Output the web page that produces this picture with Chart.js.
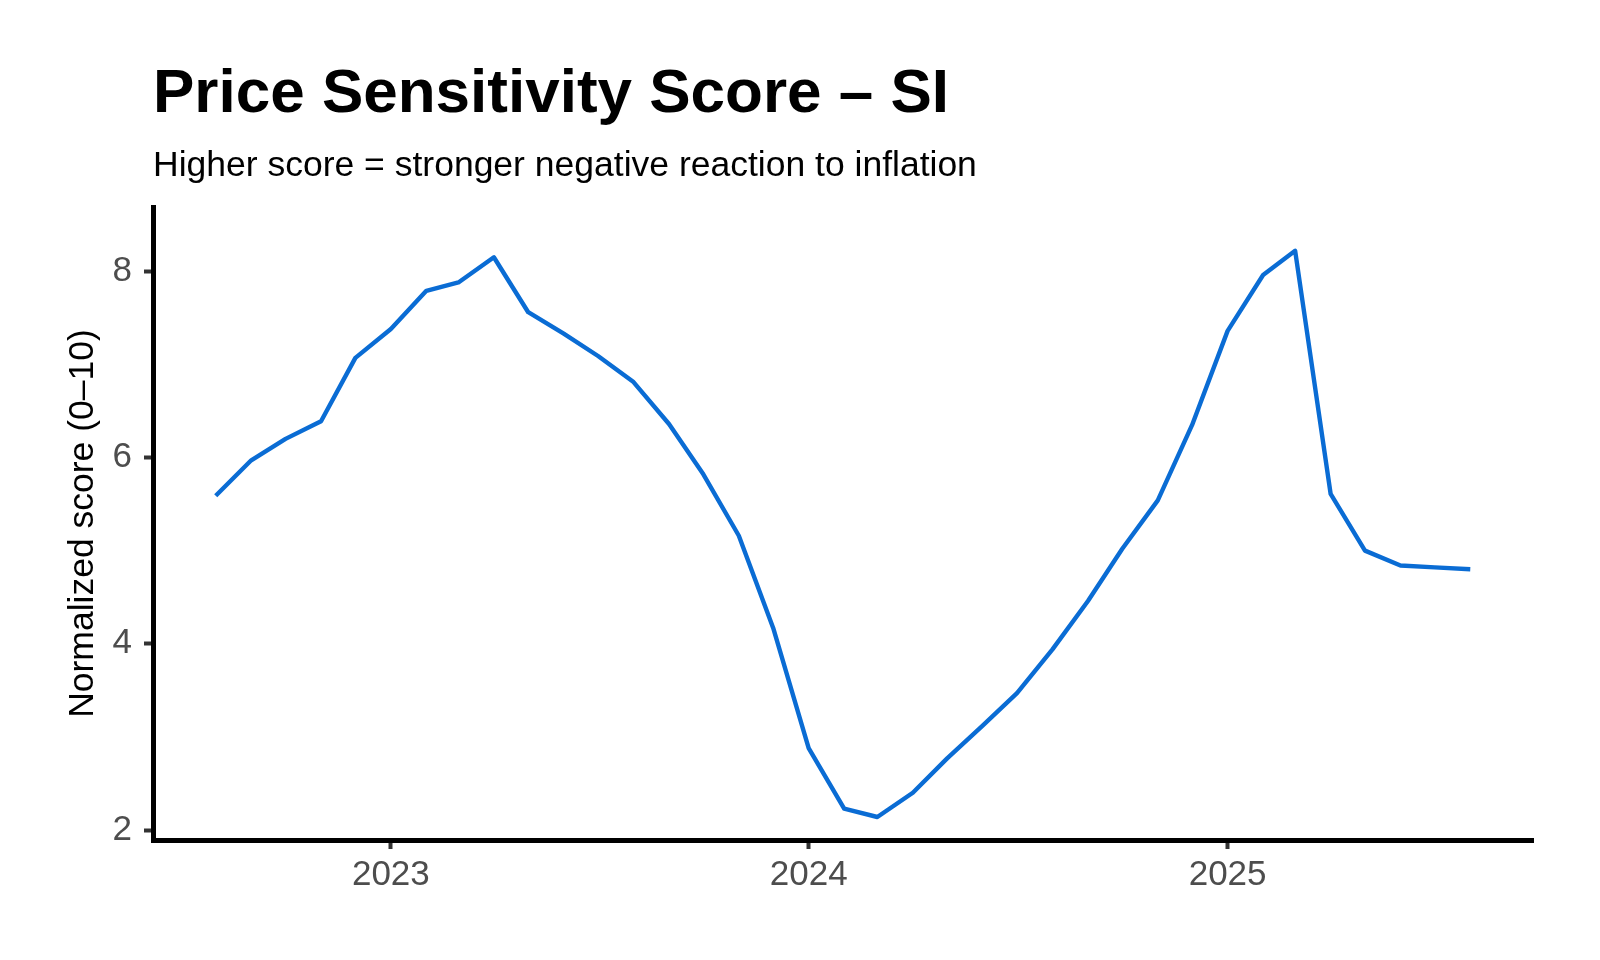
<!DOCTYPE html>
<html>
<head>
<meta charset="utf-8">
<script src="https://cdn.jsdelivr.net/npm/chart.js@4.4.1/dist/chart.umd.min.js"></script>
<style>
  html, body { margin: 0; padding: 0; background: #ffffff; }
  #wrap { width: 1600px; height: 960px; position: relative; background: #ffffff; }
  canvas { display: block; }
</style>
</head>
<body>
<div id="wrap"><canvas id="c" width="1600" height="960"></canvas></div>
<script>
// ---- data ----
const TITLE = 'Price Sensitivity Score \u2013 SI';
const SUBTITLE = 'Higher score = stronger negative reaction to inflation';
const Y_TITLE = 'Normalized score (0\u201310)';

const months = [
  '2022-08','2022-09','2022-10','2022-11','2022-12',
  '2023-01','2023-02','2023-03','2023-04','2023-05','2023-06',
  '2023-07','2023-08','2023-09','2023-10','2023-11','2023-12',
  '2024-01','2024-02','2024-03','2024-04','2024-05','2024-06',
  '2024-07','2024-08','2024-09','2024-10','2024-11','2024-12',
  '2025-01','2025-02','2025-03','2025-04','2025-05','2025-06',
  '2025-07','2025-08'
];
const scores = [
  5.59, 5.97, 6.20, 6.39, 7.07,
  7.38, 7.79, 7.88, 8.15, 7.56, 7.33,
  7.09, 6.81, 6.36, 5.82, 5.16, 4.17,
  2.88, 2.23, 2.14, 2.40, 2.77, 3.12,
  3.47, 3.94, 4.46, 5.02, 5.54, 6.35,
  7.36, 7.96, 8.22, 5.61, 5.00, 4.84,
  4.82, 4.80
];
const xTickYears = [2023, 2024, 2025];
const yTicks = [2, 4, 6, 8];
const yMin = 1.893;
const yMax = 8.69;

// ---- helpers ----
const DAY = 86400000;
function dayOf(str) {
  const [y, m] = str.split('-').map(Number);
  return Date.UTC(y, m - 1, 1) / DAY;
}
const points = months.map((m, i) => ({ x: dayOf(m), y: scores[i] }));
const xFirst = points[0].x, xLast = points[points.length - 1].x;
const xPad = (xLast - xFirst) * 0.05;
const xTickVals = xTickYears.map(y => Date.UTC(y, 0, 1) / DAY);

const FONT = '"Liberation Sans", Arial, Helvetica, sans-serif';

const titlePlugin = {
  id: 'ggTitles',
  afterDraw(chart) {
    const ctx = chart.ctx;
    const left = chart.chartArea.left;
    ctx.save();
    ctx.fillStyle = '#000000';
    ctx.textAlign = 'left';
    ctx.textBaseline = 'alphabetic';
    ctx.font = 'bold 62px ' + FONT;
    ctx.fillText(TITLE, left, 111.5);
    ctx.font = '35.5px ' + FONT;
    ctx.fillText(SUBTITLE, left, 176);
    ctx.restore();
  }
};

new Chart(document.getElementById('c'), {
  type: 'line',
  data: {
    datasets: [{
      data: points,
      borderColor: '#0A6CD4',
      borderWidth: 4.4,
      borderJoinStyle: 'round',
      borderCapStyle: 'butt',
      pointRadius: 0,
      pointHoverRadius: 0,
      tension: 0,
      fill: false
    }]
  },
  options: {
    responsive: false,
    animation: false,
    devicePixelRatio: 1,
    layout: { padding: { left: 0, top: 207, right: 67, bottom: 60 } },
    plugins: {
      legend: { display: false },
      tooltip: { enabled: false },
      title: { display: false }
    },
    scales: {
      x: {
        type: 'linear',
        min: xFirst - xPad,
        max: xLast + xPad,
        afterBuildTicks: (s) => { s.ticks = xTickVals.map(v => ({ value: v })); },
        afterFit: (s) => { s.height = 60; },
        ticks: {
          autoSkip: false,
          maxRotation: 0,
          padding: 5,
          color: '#4D4D4D',
          font: { family: FONT, size: 35 },
          callback: (v) => String(new Date(v * DAY).getUTCFullYear())
        },
        grid: {
          display: true,
          drawOnChartArea: false,
          drawTicks: true,
          tickLength: 9,
          tickWidth: 4,
          tickColor: '#333333'
        },
        border: { display: true, color: '#000000', width: 5 }
      },
      y: {
        type: 'linear',
        min: yMin,
        max: yMax,
        afterBuildTicks: (s) => { s.ticks = yTicks.map(v => ({ value: v })); },
        afterFit: (s) => { s.width = 153; },
        ticks: {
          padding: 12,
          color: '#4D4D4D',
          font: { family: FONT, size: 35 },
          callback: (v) => String(v)
        },
        grid: {
          display: true,
          drawOnChartArea: false,
          drawTicks: true,
          tickLength: 9,
          tickWidth: 4,
          tickColor: '#333333'
        },
        border: { display: true, color: '#000000', width: 5 },
        title: {
          display: true,
          text: Y_TITLE,
          color: '#000000',
          font: { family: FONT, size: 35.5, lineHeight: 1.2 },
          padding: { top: 62, bottom: 0 }
        }
      }
    }
  },
  plugins: [titlePlugin]
});
</script>
</body>
</html>
